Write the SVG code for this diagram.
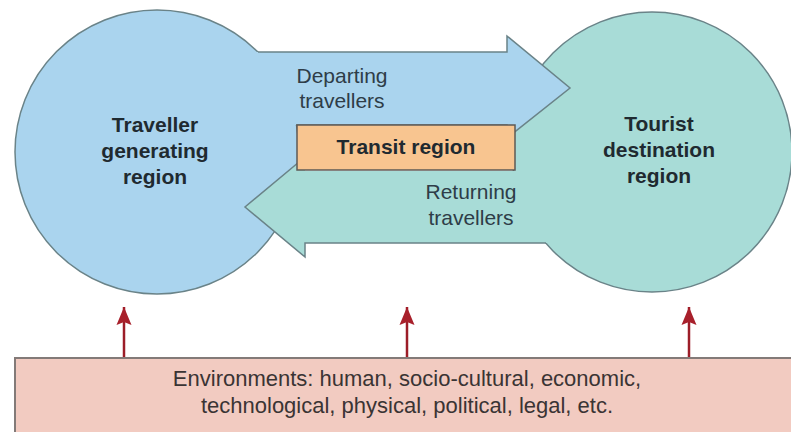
<svg xmlns="http://www.w3.org/2000/svg" width="791" height="432" viewBox="0 0 791 432">
  <style>
    .lbl-b { font-family: "Liberation Sans", Arial, sans-serif; font-weight: bold; font-size: 21px; fill: #1f2a30; text-anchor: middle; }
    .lbl { font-family: "Liberation Sans", Arial, sans-serif; font-size: 21px; fill: #2e3d48; text-anchor: middle; }
    .env { font-family: "Liberation Sans", Arial, sans-serif; font-size: 22px; fill: #3a3434; text-anchor: middle; }
    .edge { fill: none; stroke: #6a8388; stroke-width: 1.5; stroke-linejoin: miter; }
    .up { stroke: #9c1d28; stroke-width: 2.5; fill: none; }
  </style>
  <defs>
    <!-- solid triangular head pointing along the line direction -->
    <marker id="head" markerUnits="userSpaceOnUse" markerWidth="18" markerHeight="16" refX="18" refY="0" orient="auto" viewBox="0 -8 18 16">
      <path d="M0 -7.5 L18 0 L0 7.5 L3 0 Z" fill="#a8202b"/>
    </marker>
  </defs>
  <rect width="791" height="432" fill="#ffffff"/>

  <!-- regions -->
  <g id="generating-region">
    <circle cx="157" cy="152" r="142" fill="#aad4ee" stroke="#6a8388" stroke-width="1.5"/>
  </g>
  <g id="destination-region">
    <circle cx="652" cy="152" r="140" fill="#a8dcd7" stroke="#6a8388" stroke-width="1.5"/>
  </g>

  <!-- flows between regions -->
  <g id="connectors">
    <g id="departing">
      <polygon points="200,52 507,52 507,36 570,88 507,138 507,125 200,125" fill="#aad4ee"/>
      <polyline class="edge" points="258,52 507,52 507,36 570,88 507,138 507,125 296,125"/>
    </g>
    <g id="returning">
      <polygon points="600,171 305,171 305,157 245,207 305,257 305,243 600,243" fill="#a8dcd7"/>
      <polyline class="edge" points="305,157 245,207 305,257 305,243 546,243"/>
    </g>
    <line class="up" x1="124" y1="358" x2="124" y2="307" marker-end="url(#head)"/>
    <line class="up" x1="407" y1="358" x2="407" y2="307" marker-end="url(#head)"/>
    <line class="up" x1="689" y1="358" x2="689" y2="307" marker-end="url(#head)"/>
  </g>

  <g id="transit-region">
    <rect x="297" y="125" width="218" height="45" fill="#f8c590" stroke="#5e5a55" stroke-width="1.5"/>
    <text class="lbl-b" x="406" y="154">Transit region</text>
  </g>

  <g id="generating-label">
    <text class="lbl-b" x="155" y="132">Traveller</text>
    <text class="lbl-b" x="155" y="158">generating</text>
    <text class="lbl-b" x="155" y="184">region</text>
  </g>
  <g id="destination-label">
    <text class="lbl-b" x="659" y="131">Tourist</text>
    <text class="lbl-b" x="659" y="157">destination</text>
    <text class="lbl-b" x="659" y="183">region</text>
  </g>
  <g id="departing-label">
    <text class="lbl" x="342" y="83">Departing</text>
    <text class="lbl" x="342" y="108">travellers</text>
  </g>
  <g id="returning-label">
    <text class="lbl" x="471" y="199">Returning</text>
    <text class="lbl" x="471" y="225">travellers</text>
  </g>

  <g id="environments">
    <rect x="15" y="358" width="800" height="100" fill="#f2cbc1" stroke="#837a78" stroke-width="2"/>
    <text class="env" x="407" y="386">Environments: human, socio-cultural, economic,</text>
    <text class="env" x="407" y="413">technological, physical, political, legal, etc.</text>
  </g>
</svg>
